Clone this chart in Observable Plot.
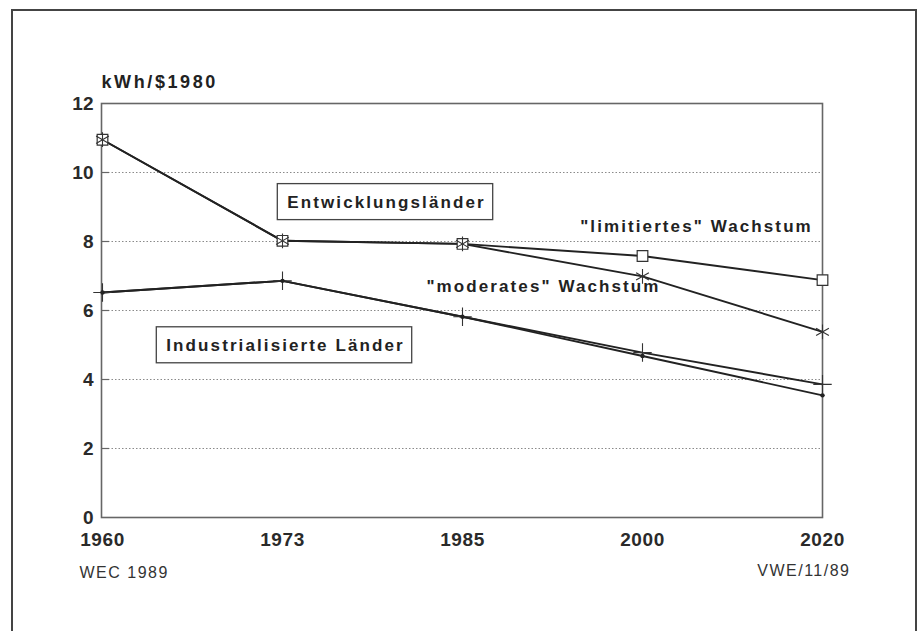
<!DOCTYPE html>
<html><head><meta charset="utf-8">
<script src="https://cdn.jsdelivr.net/npm/d3@7"></script>
<script src="https://cdn.jsdelivr.net/npm/@observablehq/plot@0.6"></script>
<style>
body{margin:0;background:#fff;}
#wrap{position:relative;width:917px;height:631px;overflow:hidden;}
#border{position:absolute;left:11px;top:9px;width:902px;height:660px;border:2px solid #444;border-bottom:none;pointer-events:none;}
#wrap svg{position:absolute;left:0;top:0;}
</style></head><body><div id="wrap"><div id="border"></div></div>
<script>
const years = ["1960", "1973", "1985", "2000", "2020"];
const limitiert = [10.95, 8.02, 7.93, 7.58, 6.88];
const moderat = [10.95, 8.02, 7.93, 6.99, 5.38];
const industriePlus = [6.52, 6.86, 5.82, 4.78, 3.86];
const industriePunkt = [6.52, 6.86, 5.82, 4.68, 3.54];
const yTicks = [0, 2, 4, 6, 8, 10, 12];
const gridTicks = [2, 4, 6, 8, 10];
const unitLabel = "kWh/$1980";
const sourceLeft = "WEC 1989";
const sourceRight = "VWE/11/89";
const boxLabels = [
  {text: "Entwicklungsländer", year: "1973", value: 9.14, shift: 104},
  {text: "Industrialisierte Länder", year: "1973", value: 4.99, shift: 3}
];
const seriesLabels = [
  {text: "\"limitiertes\" Wachstum", year: "2000", value: 8.43, shift: 54},
  {text: "\"moderates\" Wachstum", year: "1985", value: 6.68, shift: 81}
];

const toRows = (vals) => years.map((y, i) => ({year: y, value: vals[i]}));
const rowsLim = toRows(limitiert);
const rowsMod = toRows(moderat);
const rowsIP = toRows(industriePlus);
const rowsID = toRows(industriePunkt);

const FONT = "'Liberation Sans', Arial, Helvetica, sans-serif";
const INK = "#222";

const chart = Plot.plot({
  width: 917,
  height: 631,
  marginLeft: 101,
  marginRight: 95,
  marginTop: 103,
  marginBottom: 114,
  style: {fontFamily: FONT, background: "transparent", color: INK},
  x: {type: "point", domain: years, padding: 0},
  y: {domain: [0, 12]},
  marks: [
    Plot.gridY(gridTicks, {stroke: "#8a8a8a", strokeOpacity: 1, strokeWidth: 1, strokeDasharray: "1.5,2"}),
    Plot.tickY(gridTicks, {y: d => d, stroke: "#666", strokeWidth: 1.2, insetRight: 713}),
    Plot.frame({stroke: "#666", strokeWidth: 1.6}),
    Plot.axisY(yTicks, {tickSize: 0, tickPadding: 8, fontSize: 19, fontWeight: "bold", fill: "#2a2a2a", label: null}),
    Plot.axisX(years, {tickSize: 0, tickPadding: 15, fontSize: 19, fontWeight: "bold", fill: "#2a2a2a", label: null}),
    Plot.line(rowsLim, {x: "year", y: "value", stroke: INK, strokeWidth: 1.9}),
    Plot.line(rowsMod, {x: "year", y: "value", stroke: INK, strokeWidth: 1.9}),
    Plot.line(rowsIP, {x: "year", y: "value", stroke: INK, strokeWidth: 1.9}),
    Plot.line(rowsID, {x: "year", y: "value", stroke: INK, strokeWidth: 1.9}),
    Plot.dot(rowsLim, {x: "year", y: "value", symbol: "square", r: 6, stroke: "#333", strokeWidth: 1.2, fill: "white"}),
    Plot.dot(rowsMod, {x: "year", y: "value", symbol: "asterisk", r: 7, stroke: "#333", strokeWidth: 1.1}),
    Plot.dot(rowsIP, {x: "year", y: "value", symbol: "plus", r: 6, stroke: "#333", strokeWidth: 1.1}),
    Plot.dot(rowsID, {x: "year", y: "value", symbol: "circle", r: 2.2, fill: INK, stroke: "none"}),
    Plot.text(boxLabels, {x: "year", y: "value", text: "text", fontSize: 17, fontWeight: "bold", fill: INK, textAnchor: "middle"}),
    Plot.text(seriesLabels, {x: "year", y: "value", text: "text", fontSize: 17, fontWeight: "bold", fill: INK, textAnchor: "middle"}),
    Plot.text([unitLabel], {frameAnchor: "top-left", text: d => d, dy: -16, lineAnchor: "bottom", textAnchor: "start", fontSize: 18, fontWeight: "bold", fill: INK}),
    Plot.text([sourceLeft], {frameAnchor: "bottom-left", text: d => d, dx: -22, dy: 60, lineAnchor: "bottom", textAnchor: "start", fontSize: 16, fill: "#333"}),
    Plot.text([sourceRight], {frameAnchor: "bottom-right", text: d => d, dx: 28, dy: 58, lineAnchor: "bottom", textAnchor: "end", fontSize: 16, fill: "#333"})
  ]
});
document.getElementById("wrap").appendChild(chart);

const allText = Array.from(chart.querySelectorAll("text"));
const spacing = (t, ls) => t.setAttribute("letter-spacing", ls);
allText.forEach(t => {
  const s = t.textContent;
  if (years.includes(s)) spacing(t, "0.6px");
  if (s === unitLabel) spacing(t, "2.6px");
  if (s === sourceLeft || s === sourceRight) spacing(t, "1.5px");
  const lab = seriesLabels.find(d => d.text === s) || boxLabels.find(d => d.text === s);
  if (lab) {
    spacing(t, "2.1px");
    const tr = t.getAttribute("transform") || "";
    t.setAttribute("transform", tr + ` translate(${lab.shift},0)`);
  }
});

// boxes around the two region labels
allText.forEach(t => {
  if (!boxLabels.some(d => d.text === t.textContent)) return;
  const b = t.getBBox();
  const r = document.createElementNS("http://www.w3.org/2000/svg", "rect");
  const padL = 10, padR = 7, padT = 9, padB = 8;
  r.setAttribute("x", b.x - padL);
  r.setAttribute("y", b.y - padT);
  r.setAttribute("width", b.width + padL + padR);
  r.setAttribute("height", b.height + padT + padB);
  r.setAttribute("fill", "white");
  r.setAttribute("stroke", "#444");
  r.setAttribute("stroke-width", "1.3");
  const tr = t.getAttribute("transform");
  if (tr) r.setAttribute("transform", tr);
  t.parentNode.insertBefore(r, t);
});
</script>
</body></html>
